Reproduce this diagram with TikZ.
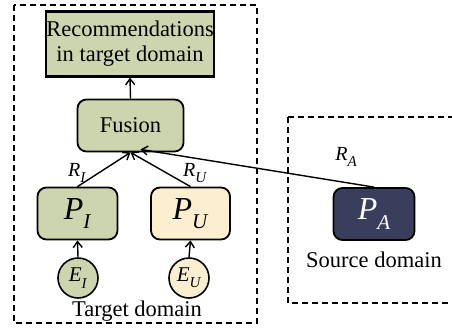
\documentclass[tikz,border=0pt]{standalone}
\usepackage{fontspec}
\setmainfont{Liberation Serif}
\usetikzlibrary{arrows.meta,calc}
\definecolor{boxgreen}{HTML}{CDD5AE}
\definecolor{boxyellow}{HTML}{FCEFCF}
\definecolor{boxnavy}{HTML}{3A3D5C}
\newcommand{\symb}[4]{{\fontsize{#3}{#3}\selectfont\textit{#1}\raisebox{-0.3em}{\fontsize{#4}{#4}\selectfont\textit{#2}}}}
\begin{document}
\begin{tikzpicture}[x=1pt,y=-1pt,
  domainbox/.style={draw,line width=1.3pt,dash pattern=on 6pt off 4pt},
  recbox/.style={draw,line width=2.2pt,fill=boxgreen,minimum width=167pt,minimum height=65pt,inner sep=0pt,align=center,font=\fontsize{22.5}{25}\selectfont},
  rbox/.style={draw,line width=1.8pt,rounded corners=9pt,minimum height=52pt,inner sep=0pt},
  ebox/.style={draw,line width=1.6pt,circle,minimum size=40pt,inner sep=0pt},
  conn/.style={line width=1.4pt,-{Straight Barb[length=6pt,width=9pt,line width=1.4pt]}},
  lbl/.style={inner sep=0pt,font=\fontsize{22.5}{25}\selectfont}
]
\useasboundingbox (0,0) rectangle (452,330);
\clip (0,0) rectangle (452,330);
\draw[domainbox] (14,5) rectangle (257,323);
\draw[domainbox] (288,117) rectangle (475,303);

\node[recbox] (rec) at (130,44) {Recommendations\\in target domain};
\node[rbox,fill=boxgreen,minimum width=106pt,font=\fontsize{22.5}{25}\selectfont] (fus) at (130.5,125.5) {Fusion};
\node[rbox,fill=boxgreen,minimum width=80pt] (pi) at (77.5,213.5) {\symb{P}{I}{32}{21}};
\node[rbox,fill=boxyellow,minimum width=79pt] (pu) at (190.5,213.5) {\symb{P}{U}{32}{21}};
\node[rbox,fill=boxnavy,minimum width=81pt,text=white] (pa) at (374,214) {\symb{P}{A}{32}{21}};
\node[ebox,fill=boxgreen] (ei) at (78,278) {\symb{E}{I}{21}{15}};
\node[ebox,fill=boxyellow] (eu) at (189,278) {\symb{E}{U}{21}{15}};

\node[lbl] (ri) at (77,173) {\symb{R}{I}{20}{15}};
\node[lbl] (ru) at (195,173) {\symb{R}{U}{20}{15}};
\node[lbl] (ra) at (346,157) {\symb{R}{A}{20}{15}};
\node[lbl] (td) at (137,311) {Target domain};
\node[lbl] (sd) at (374,260) {Source domain};

\draw[conn] (fus.north) -- (rec.south);
\draw[conn] (ei.north) -- (pi.south);
\draw[conn] (eu.north) -- (pu.south);
\draw[conn] (pi.north) -- (fus.south);
\draw[conn] (pu.north) -- (fus.south);
\draw[conn] (pa.north) -- ($(fus.south)+(10,-3)$);
\end{tikzpicture}
\end{document}
